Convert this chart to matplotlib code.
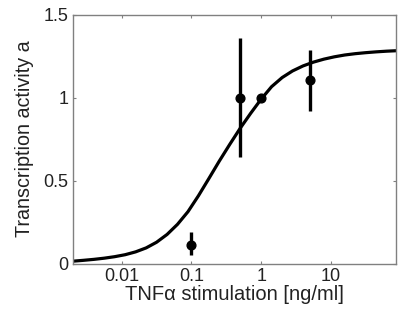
import matplotlib
matplotlib.use("Agg")
import matplotlib.pyplot as plt

plt.rcParams['font.family'] = ['Liberation Sans', 'DejaVu Sans']

# Measured data (TNFa dose vs transcription activity)
dose = [0.1, 0.5, 1.0, 5.0]
activity = [0.11, 1.0, 1.0, 1.105]
err_low = [0.06, 0.36, 0.0, 0.185]
err_high = [0.08, 0.36, 0.0, 0.18]

# Fitted model curve (x in ng/ml)
curve_x = [0.0020, 0.0028, 0.0040, 0.0056, 0.0079, 0.0112, 0.0158, 0.0224,
           0.0316, 0.0447, 0.0631, 0.0891, 0.126, 0.178, 0.251, 0.355,
           0.501, 0.708, 1.0, 1.41, 2.0, 2.82, 3.98, 5.62, 7.94, 11.2,
           15.8, 22.4, 31.6, 44.7, 63.1, 89.1]
curve_y = [0.014, 0.019, 0.025, 0.032, 0.041, 0.053, 0.070, 0.094,
           0.128, 0.175, 0.236, 0.312, 0.408, 0.512, 0.617, 0.718,
           0.815, 0.905, 0.990, 1.065, 1.120, 1.160, 1.190, 1.213, 1.231, 1.245,
           1.256, 1.264, 1.270, 1.275, 1.279, 1.282]

xticks = [0.01, 0.1, 1, 10]
xticklabels = ["0.01", "0.1", "1", "10"]
yticks = [0, 0.5, 1, 1.5]
yticklabels = ["0", "0.5", "1", "1.5"]

fig = plt.figure(figsize=(3.98, 3.2), dpi=100)
ax = fig.add_axes([73/398, 1 - 263.5/320, (396 - 73)/398, (263.5 - 14.5)/320])

ax.plot(curve_x, curve_y, color='black', lw=2.3, solid_joinstyle='round',
        solid_capstyle='round')
ax.errorbar(dose, activity, yerr=[err_low, err_high], fmt='o', color='black',
            ms=6.3, elinewidth=2.4, capsize=0)

ax.set_xscale('log')
ax.set_xlim(0.002, 86)
ax.set_ylim(0, 1.5)
ax.set_xticks(xticks)
ax.set_xticklabels(xticklabels)
ax.set_yticks(yticks)
ax.set_yticklabels(yticklabels)
ax.minorticks_off()

for s in ax.spines.values():
    s.set_color('#808080')
    s.set_linewidth(1.0)
ax.tick_params(direction='in', length=2.5, width=0.8, color='#808080',
               top=True, right=True, labelsize=13, labelcolor='#222222', pad=3.2)

ax.set_xlabel("TNFα stimulation [ng/ml]", fontsize=14.5, color='#222222', labelpad=0)
ax.set_ylabel("Transcription activity a", fontsize=14.2, color='#222222', labelpad=7)

fig.savefig("out.png", dpi=100)
